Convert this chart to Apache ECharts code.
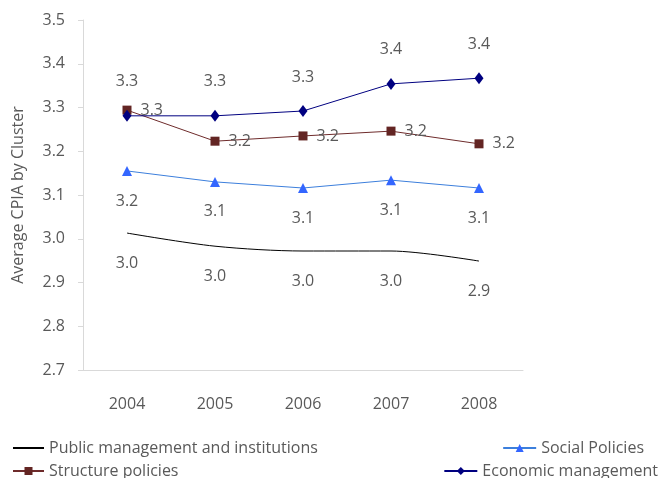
<!DOCTYPE html>
<html>
<head>
<meta charset="utf-8">
<script src="https://cdn.jsdelivr.net/npm/echarts@6/dist/echarts.min.js"></script>
<style>html,body{margin:0;padding:0;background:#fff}#c{width:660px;height:478px}</style>
</head>
<body>
<div id="c"></div>
<script>
var years = ['2004', '2005', '2006', '2007', '2008'];
var publicMgmt = [3.013, 2.983, 2.972, 2.972, 2.949];
var socialPolicies = [3.155, 3.130, 3.116, 3.134, 3.116];
var structurePolicies = [3.294, 3.223, 3.235, 3.246, 3.217];
var economicMgmt = [3.281, 3.281, 3.292, 3.354, 3.367];
var yTicks = {min: 2.7, max: 3.5, step: 0.1};

var FONT = 'Open Sans';
var TXT = '#595959';
function fmt(p) { return (Math.round(p.value * 10) / 10).toFixed(1); }
var lab = function (pos, dist) {
  return {show: true, position: pos, distance: dist, formatter: fmt, color: TXT, fontFamily: FONT, fontSize: 16};
};
var legText = {color: TXT, fontFamily: FONT, fontSize: 16};

var chart = echarts.init(document.getElementById('c'), null, {renderer: 'canvas'});
chart.setOption({
  animation: false,
  grid: {left: 83, right: 137, top: 20, bottom: 108},
  xAxis: {
    type: 'category', data: years, boundaryGap: true,
    axisLine: {lineStyle: {color: '#d9d9d9'}},
    axisTick: {show: false},
    axisLabel: {color: TXT, fontFamily: FONT, fontSize: 16, margin: 26}
  },
  yAxis: {
    type: 'value', min: yTicks.min, max: yTicks.max, interval: yTicks.step,
    name: 'Average CPIA by Cluster', nameLocation: 'middle', nameGap: 57,
    nameTextStyle: {color: TXT, fontFamily: FONT, fontSize: 16},
    axisLine: {show: true, lineStyle: {color: '#d9d9d9'}},
    axisTick: {show: true, length: 5, lineStyle: {color: '#d9d9d9'}},
    splitLine: {show: false},
    axisLabel: {color: TXT, fontFamily: FONT, fontSize: 16, margin: 18,
      formatter: function (v) { return v.toFixed(1); }}
  },
  legend: [
    {left: 12, top: 440, padding: 0, itemWidth: 31, itemHeight: 10, itemGap: 5,
      data: [{name: 'Public management and institutions', itemStyle: {opacity: 0}}], textStyle: legText},
    {right: 16, top: 440, padding: 0, itemWidth: 33, itemHeight: 10, data: ['Social Policies'], textStyle: legText},
    {left: 12, top: 463, padding: 0, itemWidth: 31, itemHeight: 10, data: ['Structure policies'], textStyle: legText},
    {right: 2, top: 463, padding: 0, itemWidth: 33, itemHeight: 10, data: ['Economic management'], textStyle: legText}
  ],
  series: [
    {name: 'Public management and institutions', type: 'line', data: publicMgmt, smooth: 0.3,
      symbol: 'circle', symbolSize: 0.01,
      lineStyle: {color: '#000000', width: 1}, itemStyle: {color: '#000000'},
      label: lab('bottom', 22)},
    {name: 'Social Policies', type: 'line', data: socialPolicies,
      symbol: 'triangle', symbolSize: 10,
      lineStyle: {color: '#3c7fdc', width: 1}, itemStyle: {color: '#3366ff'},
      label: lab('bottom', 17)},
    {name: 'Structure policies', type: 'line', data: structurePolicies,
      symbol: 'rect', symbolSize: 9,
      lineStyle: {color: '#6e2b2b', width: 1}, itemStyle: {color: '#632523'},
      label: lab('right', 9)},
    {name: 'Economic management', type: 'line', data: economicMgmt,
      symbol: 'diamond', symbolSize: [9, 12],
      lineStyle: {color: '#000080', width: 1}, itemStyle: {color: '#000080'},
      label: lab('top', 20)}
  ]
});
</script>
</body>
</html>
